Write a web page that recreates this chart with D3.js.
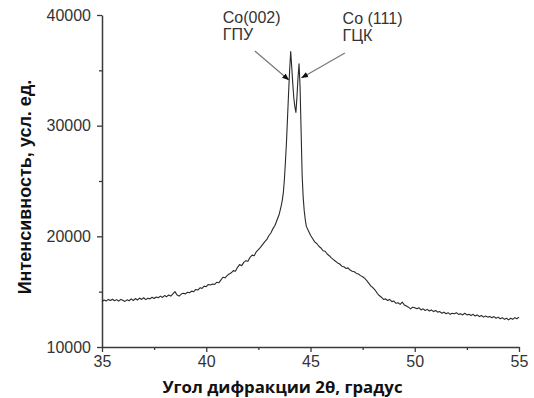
<!DOCTYPE html>
<html><head><meta charset="utf-8">
<script src="https://cdn.jsdelivr.net/npm/d3@7"></script>
<style>
html,body{margin:0;padding:0;background:#fff;}
svg{display:block;}
</style></head>
<body>
<svg id="chart" width="534" height="398"></svg>
<script>
// ---- data ----
const angle = [
35.0,35.1,35.2,35.3,35.4,35.5,35.6,35.7,35.8,35.9,
36.0,36.1,36.2,36.3,36.4,36.5,36.6,36.7,36.8,36.9,
37.0,37.1,37.2,37.3,37.4,37.5,37.6,37.7,37.8,37.9,
38.0,38.1,38.2,38.3,38.4,38.5,38.6,38.7,38.8,38.9,
39.0,39.1,39.2,39.3,39.4,39.5,39.6,39.7,39.8,39.9,
40.0,40.1,40.2,40.3,40.4,40.5,40.6,40.7,40.8,40.9,
41.0,41.1,41.2,41.3,41.4,41.5,41.6,41.7,41.8,41.9,
42.0,42.1,42.2,42.3,42.4,42.5,42.6,42.7,42.8,42.9,
43.0,43.1,43.2,43.3,43.4,43.5,
43.55,43.6,43.65,43.7,43.75,43.8,43.85,43.9,43.95,44.0,44.05,44.1,44.15,44.2,44.25,44.3,44.35,44.4,44.45,44.5,44.55,44.6,44.65,44.7,44.75,44.8,44.9,
45.0,45.1,45.2,45.3,45.4,45.5,45.6,45.7,45.8,45.9,
46.0,46.1,46.2,46.3,46.4,46.5,46.6,46.7,46.8,46.9,
47.0,47.1,47.2,47.3,47.4,47.5,47.6,47.7,47.8,47.9,
48.0,48.1,48.2,48.3,48.4,48.5,48.6,48.7,48.8,48.9,
49.0,49.1,49.2,49.3,49.4,49.5,49.6,49.7,49.8,49.9,
50.0,50.1,50.2,50.3,50.4,50.5,50.6,50.7,50.8,50.9,
51.0,51.1,51.2,51.3,51.4,51.5,51.6,51.7,51.8,51.9,
52.0,52.1,52.2,52.3,52.4,52.5,52.6,52.7,52.8,52.9,
53.0,53.1,53.2,53.3,53.4,53.5,53.6,53.7,53.8,53.9,
54.0,54.1,54.2,54.3,54.4,54.5,54.6,54.7,54.8,54.9,55.0
];
const intensity = [
14100,14250,14150,14300,14200,14320,14180,14280,14150,14300,
14220,14120,14260,14180,14350,14200,14380,14250,14420,14300,
14450,14280,14400,14350,14500,14380,14520,14450,14600,14480,
14650,14550,14700,14600,14800,15000,14700,14600,14780,14850,
14800,14950,14900,15050,15000,15200,15150,15350,15300,15500,
15450,15650,15600,15700,15650,15850,15800,16050,16300,16250,
16450,16600,16700,16900,16850,17200,17450,17350,17650,17800,
17750,18100,18300,18250,18600,18800,19000,19250,19500,19700,
20050,20300,20700,21000,21500,22000,
22400,22800,23300,24000,25200,26800,28600,30800,33000,35000,36700,35300,33800,32500,31700,31200,32600,34300,35600,33500,29500,25500,23500,22300,21500,20900,20500,
20100,19800,19500,19350,19100,18950,18700,18650,18400,18250,
18050,17900,17750,17600,17500,17300,17250,17100,17150,16950,
16850,16800,16650,16600,16450,16350,16200,16000,15750,15500,
15350,15150,14850,14650,14500,14300,14350,14200,14300,14100,
14150,13950,14000,13850,14050,13800,13700,13600,13450,13600,
13550,13450,13550,13350,13450,13300,13400,13250,13350,13200,
13300,13150,13200,13050,13150,13000,13100,12950,13050,13000,
13100,12950,13000,12900,13050,12900,12950,12850,12950,12800,
12900,12750,12850,12700,12800,12700,12750,12650,12750,12600,
12700,12550,12650,12500,12600,12450,12600,12500,12650,12550,12700
];
const xMajorTicks = [35, 40, 45, 50, 55];
const xMinorTicks = [37.5, 42.5, 47.5, 52.5];
const yMajorTicks = [10000, 20000, 30000, 40000];
const yMinorTicks = [15000, 25000, 35000];
const xTitle = "Угол дифракции 2θ, градус";
const yTitle = "Интенсивность, усл. ед.";
// annotations: label lines, text anchor (angle, intensity), arrow start and tip (angle, intensity)
const annLines = [["Co(002)", "ГПУ"], ["Co (111)", "ГЦК"]];
const annText = [[40.79, 39250], [46.54, 39200]];
const annFrom = [[42.33, 36740], [46.65, 36560]];
const annTo = [[43.95, 34150], [44.58, 34330]];

// ---- chart ----
const W = 534, H = 398;
const m = {left: 102, right: 15, top: 15, bottom: 51};
const svg = d3.select("#chart");
const x = d3.scaleLinear().domain([35, 55]).range([m.left, W - m.right]);
const y = d3.scaleLinear().domain([10000, 40000]).range([H - m.bottom, m.top]);

const axisColor = "#3a3a3a";
const tickFont = "'Liberation Sans', Arial, sans-serif";

// minor ticks
svg.append("g").attr("transform", `translate(0,${y(10000)})`)
  .call(d3.axisBottom(x).tickValues(xMinorTicks).tickSize(3).tickFormat(""))
  .call(g => g.select(".domain").remove())
  .call(g => g.selectAll("line").attr("stroke", axisColor).attr("stroke-width", 1.3));
svg.append("g").attr("transform", `translate(${x(35)},0)`)
  .call(d3.axisLeft(y).tickValues(yMinorTicks).tickSize(3).tickFormat(""))
  .call(g => g.select(".domain").remove())
  .call(g => g.selectAll("line").attr("stroke", axisColor).attr("stroke-width", 1.3));

// major axes
const gx = svg.append("g").attr("transform", `translate(0,${y(10000)})`)
  .call(d3.axisBottom(x).tickValues(xMajorTicks).tickSize(5).tickSizeOuter(0).tickPadding(4).tickFormat(d3.format("d")));
const gy = svg.append("g").attr("transform", `translate(${x(35)},0)`)
  .call(d3.axisLeft(y).tickValues(yMajorTicks).tickSize(5).tickSizeOuter(0).tickPadding(6).tickFormat(d3.format("d")));
[gx, gy].forEach(g => {
  g.select(".domain").attr("stroke", axisColor).attr("stroke-width", 1.5);
  g.selectAll(".tick line").attr("stroke", axisColor).attr("stroke-width", 1.3);
  g.selectAll(".tick text").attr("fill", "#333").style("font-family", tickFont).style("font-size", "16px");
});

// line
const pts = angle.map((a, i) => [a, intensity[i]]);
svg.append("path").datum(pts)
  .attr("fill", "none").attr("stroke", "#2a2a2a").attr("stroke-width", 1.1)
  .attr("stroke-linejoin", "round")
  .attr("d", d3.line().x(d => x(d[0])).y(d => y(d[1])));

// arrows
const defs = svg.append("defs");
defs.append("marker").attr("id", "ah").attr("viewBox", "0 0 10 10")
  .attr("refX", 9).attr("refY", 5).attr("markerWidth", 7).attr("markerHeight", 7)
  .attr("markerUnits", "userSpaceOnUse").attr("orient", "auto")
  .append("path").attr("d", "M0,1 L10,5 L0,9 Z").attr("fill", "#111");
annFrom.forEach((f, i) => {
  svg.append("line")
    .attr("x1", x(f[0])).attr("y1", y(f[1]))
    .attr("x2", x(annTo[i][0])).attr("y2", y(annTo[i][1]))
    .attr("stroke", "#777").attr("stroke-width", 1.2)
    .attr("marker-end", "url(#ah)");
});
annLines.forEach((lines, i) => {
  const t = svg.append("text")
    .attr("x", x(annText[i][0])).attr("y", y(annText[i][1]))
    .attr("fill", "#333").style("font-family", tickFont).style("font-size", "16px");
  lines.forEach((s, j) => t.append("tspan").attr("x", x(annText[i][0])).attr("dy", j === 0 ? 0 : 17).text(s));
});

// axis titles
svg.append("text")
  .attr("x", (x(35) + x(55)) / 2 - 28).attr("y", H - 5)
  .attr("text-anchor", "middle").attr("fill", "#111")
  .style("font-family", "'Open Sans', sans-serif").style("font-weight", "bold").style("font-size", "16.8px")
  .text(xTitle);
svg.append("text")
  .attr("transform", `translate(31,${(y(10000) + y(40000)) / 2 + 6}) rotate(-90)`)
  .attr("text-anchor", "middle").attr("fill", "#111")
  .style("font-family", "'Liberation Sans', Arial, sans-serif").style("font-weight", "bold").style("font-size", "18px")
  .text(yTitle);
</script>
</body></html>
